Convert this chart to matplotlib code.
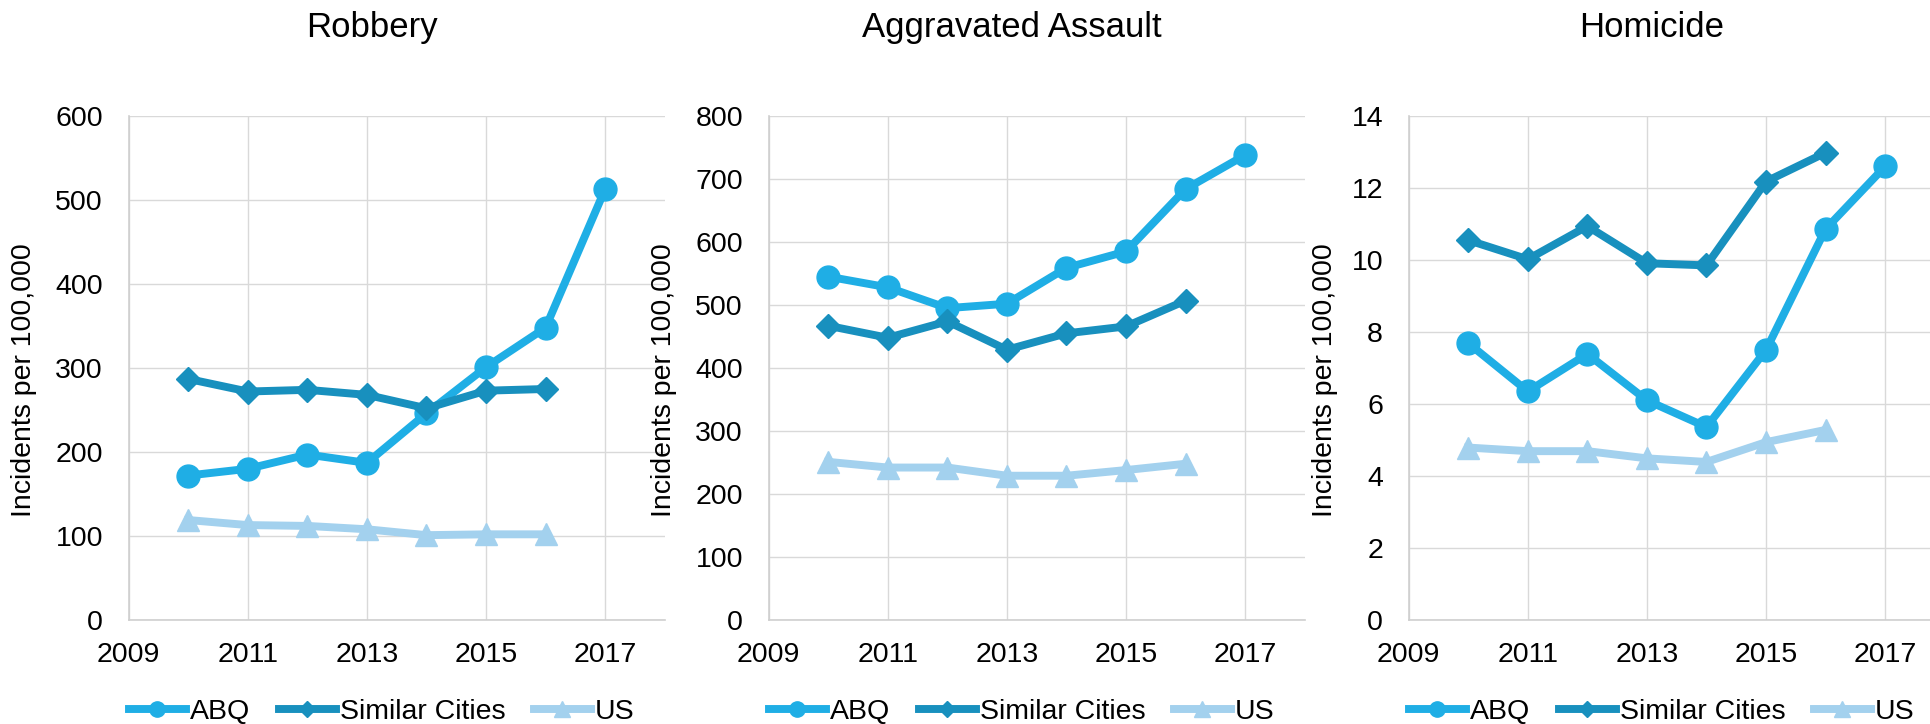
import matplotlib
matplotlib.use("Agg")
import matplotlib.pyplot as plt
from matplotlib.lines import Line2D

plt.rcParams['font.family'] = ['Liberation Sans', 'DejaVu Sans']

# ---------------- data ----------------
titles = ["Robbery", "Aggravated Assault", "Homicide"]
series_names = ["ABQ", "Similar Cities", "US"]
years_abq = [2010, 2011, 2012, 2013, 2014, 2015, 2016, 2017]
years_other = [2010, 2011, 2012, 2013, 2014, 2015, 2016]

robbery_abq = [172, 180, 197, 187, 246, 301, 348, 513]
robbery_similar = [287, 272, 274, 268, 252, 273, 275]
robbery_us = [119, 113, 112, 108, 101, 102, 102]

assault_abq = [545, 528, 495, 502, 559, 585, 684, 738]
assault_similar = [467, 448, 474, 429, 455, 466, 507]
assault_us = [251, 242, 242, 229, 229, 238, 248]

homicide_abq = [7.69, 6.35, 7.39, 6.10, 5.36, 7.50, 10.86, 12.60]
homicide_similar = [10.55, 10.02, 10.94, 9.91, 9.85, 12.18, 12.98]
homicide_us = [4.79, 4.69, 4.69, 4.49, 4.39, 4.94, 5.28]

y_limits = [600, 800, 14]
y_steps = [100, 100, 2]
x_ticks = [2009, 2011, 2013, 2015, 2017]
y_label = "Incidents per 100,000"

panels = [
    (robbery_abq, robbery_similar, robbery_us),
    (assault_abq, assault_similar, assault_us),
    (homicide_abq, homicide_similar, homicide_us),
]

# ---------------- style ----------------
W, H = 1931, 724
C_ABQ = '#1FAEE5'
C_SIM = '#1890BE'
C_US = '#A3D1EE'
GRID = '#D9D9D9'
LW = 5.7
FS = 20.5

fig = plt.figure(figsize=(W / 100, H / 100), dpi=100)

lefts_px = [128.7, 768.7, 1408.7]
axw_px = 536
top_px, bot_px = 116, 620
title_cx = [372, 1012, 1652]
ylabel_x = [-0.172, -0.172, -0.131]

for i, (abq, sim, us) in enumerate(panels):
    ax = fig.add_axes([lefts_px[i] / W, (H - bot_px) / H,
                       axw_px / W, (bot_px - top_px) / H])
    ax.plot(years_abq, abq, color=C_ABQ, lw=LW, marker='o', ms=16.5,
            solid_joinstyle='round', clip_on=False)
    ax.plot(years_other, sim, color=C_SIM, lw=LW, marker='D', ms=12,
            solid_joinstyle='round', clip_on=False)
    ax.plot(years_other, us, color=C_US, lw=LW, marker='^', ms=16,
            solid_joinstyle='round', clip_on=False)

    ax.set_xlim(2009, 2018)
    ax.set_ylim(0, y_limits[i])
    ax.set_xticks(x_ticks)
    yt = []
    v = 0
    while v <= y_limits[i] + 1e-9:
        yt.append(v)
        v += y_steps[i]
    ax.set_yticks(yt)
    ax.set_xticklabels([str(t) for t in x_ticks])
    ax.set_yticklabels([str(int(t)) for t in yt])

    ax.grid(True, color=GRID, lw=1.0)
    ax.set_axisbelow(True)
    for s in ['top', 'right']:
        ax.spines[s].set_visible(False)
    for s in ['left', 'bottom']:
        ax.spines[s].set_color('#CFCFCF')
        ax.spines[s].set_linewidth(1.2)
    ax.tick_params(axis='both', length=0, labelsize=FS, colors='black')
    ax.tick_params(axis='x', pad=16)
    ax.tick_params(axis='y', pad=18.5)

    ax.set_ylabel(y_label, fontsize=FS)
    ax.yaxis.set_label_coords(ylabel_x[i], 0.475)

    fig.text(title_cx[i] / W, (H - 37) / H, titles[i], fontsize=25,
             ha='center', va='baseline')

    handles = [
        Line2D([], [], color=C_ABQ, lw=LW, marker='o', ms=11),
        Line2D([], [], color=C_SIM, lw=LW, marker='D', ms=8),
        Line2D([], [], color=C_US, lw=LW, marker='^', ms=11),
    ]
    legend_cx = lefts_px[i] + axw_px / 2 - 15
    fig.legend(handles, series_names, loc='center',
               bbox_to_anchor=(legend_cx / W, (H - 712) / H),
               ncol=3, frameon=False, fontsize=FS, handlelength=2.0,
               handletextpad=0.15, columnspacing=1.0, borderpad=0,
               borderaxespad=0)

fig.savefig('out.png', dpi=100)
